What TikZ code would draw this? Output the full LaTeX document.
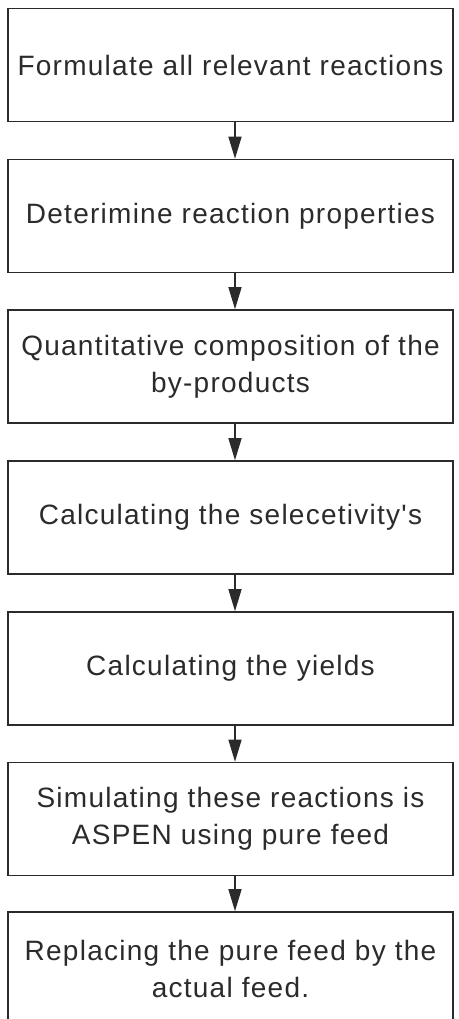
\documentclass[tikz,border=0pt]{standalone}
\usepackage{fontspec}
\setmainfont{Liberation Sans}
\newfontfamily\boxfont[LetterSpace=4.5]{Liberation Sans}
\usetikzlibrary{arrows.meta}
\definecolor{ink}{HTML}{2B2B2B}
\tikzset{
  stepbox/.style={draw=ink, line width=1.6pt, minimum width=445pt, minimum height=113pt,
    inner sep=0pt, align=center, text=ink, font=\boxfont\fontsize{28}{37}\selectfont},
  flow/.style={draw=ink, line width=1.4pt, -{Triangle[length=22pt,width=13pt]}}
}
\begin{document}
\begin{tikzpicture}[x=1pt,y=-1pt]
\useasboundingbox (0,0) rectangle (458,1019);
\node[stepbox] (b1) at (230.5,65) {Formulate all relevant reactions};
\node[stepbox] (b2) at (230.5,216) {Deterimine reaction properties};
\node[stepbox] (b3) at (230.5,366.5) {Quantitative composition of the\\by-products};
\node[stepbox] (b4) at (230.5,517.5) {Calculating the selecetivity's};
\node[stepbox] (b5) at (230.5,668.5) {Calculating the yields};
\node[stepbox] (b6) at (230.5,819) {Simulating these reactions is\\ASPEN using pure feed};
\node[stepbox] (b7) at (230.5,968.5) {Replacing the pure feed by the\\actual feed.};
\foreach \a/\b in {b1/b2,b2/b3,b3/b4,b4/b5,b5/b6,b6/b7}
  \draw[flow] ([xshift=4.5pt]\a.south) -- ([xshift=4.5pt]\b.north);
\end{tikzpicture}
\end{document}
